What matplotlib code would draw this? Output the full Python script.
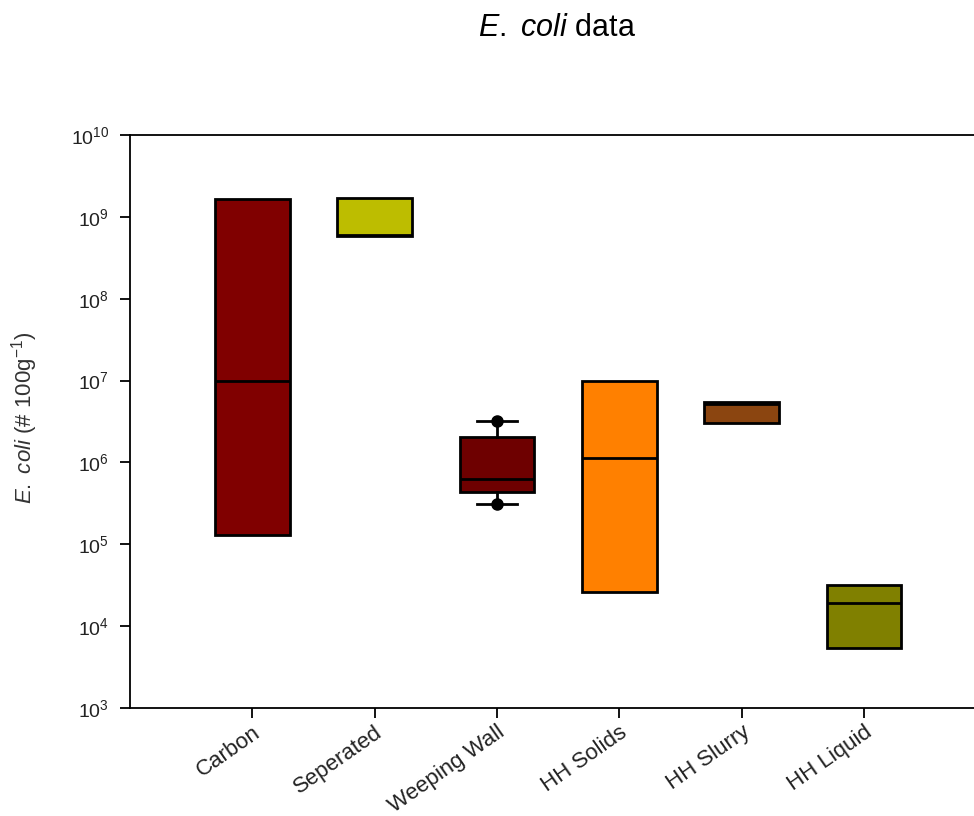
import matplotlib
matplotlib.use('Agg')
from matplotlib import pyplot as plt
from matplotlib.ticker import LogLocator, NullLocator

# Data (E. coli counts, # per 100 g)
categories = ['Carbon', 'Seperated', 'Weeping Wall', 'HH Solids', 'HH Slurry', 'HH Liquid']
q1 = [1.3e5, 5.8e8, 4.4e5, 2.6e4, 3.0e6, 5.4e3]
medians = [1.0e7, 6.0e8, 6.2e5, 1.14e6, 5.2e6, 1.9e4]
q3 = [1.64e9, 1.7e9, 2.06e6, 9.9e6, 5.5e6, 3.2e4]
# whisker ends only exist for Weeping Wall
ww_low, ww_high = 3.1e5, 3.2e6
colors = ['#800000', '#BDBD00', '#6E0000', '#FF8000', '#8B4510', '#808000']

plt.rcParams['font.family'] = ['Liberation Sans', 'DejaVu Sans']
plt.rcParams['mathtext.fontset'] = 'custom'
plt.rcParams['mathtext.rm'] = 'Liberation Sans'
plt.rcParams['mathtext.it'] = 'Liberation Sans:italic'

fig = plt.figure(figsize=(9.74, 8.16), dpi=100)
ax = fig.add_axes([130 / 974, 1 - 708 / 816, 844 / 974, 573 / 816])

positions = list(range(1, len(categories) + 1))
stats = []
for i, name in enumerate(categories):
    s = {'label': name, 'q1': q1[i], 'med': medians[i], 'q3': q3[i],
         'whislo': q1[i], 'whishi': q3[i], 'fliers': []}
    if name == 'Weeping Wall':
        s['whislo'], s['whishi'] = ww_low, ww_high
        s['fliers'] = [ww_low, ww_high]
    stats.append(s)

plain = [i for i, c in enumerate(categories) if c != 'Weeping Wall']
ww = categories.index('Weeping Wall')

box_kw = dict(patch_artist=True, widths=0.61,
              boxprops=dict(edgecolor='black', linewidth=2),
              medianprops=dict(color='black', linewidth=2))

b1 = ax.bxp([stats[i] for i in plain], positions=[positions[i] for i in plain],
            showcaps=False, showfliers=False,
            whiskerprops=dict(linewidth=0), **box_kw)
for patch, i in zip(b1['boxes'], plain):
    patch.set_facecolor(colors[i])

b2 = ax.bxp([stats[ww]], positions=[positions[ww]], showcaps=True, showfliers=True,
            capwidths=0.32,
            whiskerprops=dict(color='black', linewidth=2),
            capprops=dict(color='black', linewidth=2),
            flierprops=dict(marker='o', markerfacecolor='black',
                            markeredgecolor='black', markersize=8),
            **box_kw)
b2['boxes'][0].set_facecolor(colors[ww])

ax.set_yscale('log')
ax.set_ylim(1e3, 1e10)
ax.set_xlim(0, 6.9)
ax.yaxis.set_major_locator(LogLocator(base=10, numticks=12))
ax.yaxis.set_minor_locator(NullLocator())

ax.set_xticks(positions)
ax.set_xticklabels(categories, rotation=35, ha='right', rotation_mode='anchor')

ax.spines['right'].set_visible(False)
for side in ['left', 'top', 'bottom']:
    ax.spines[side].set_linewidth(1.3)
ax.tick_params(axis='both', which='major', direction='out', length=7, width=1.3,
               labelsize=14, labelcolor='#222222', pad=8)
ax.tick_params(axis='x', pad=3, labelsize=16)

ax.set_ylabel(r'$\it{E.}$ $\it{coli}$ (# 100g$^{-1}$)', fontsize=16, color='#333333')
ax.yaxis.set_label_coords(-0.107, 0.507)

fig.text(557 / 974, 1 - 36 / 816, r'$\it{E.}$ $\it{coli}$ data', fontsize=22,
         ha='center', va='baseline')

fig.savefig('out.png', dpi=100)
